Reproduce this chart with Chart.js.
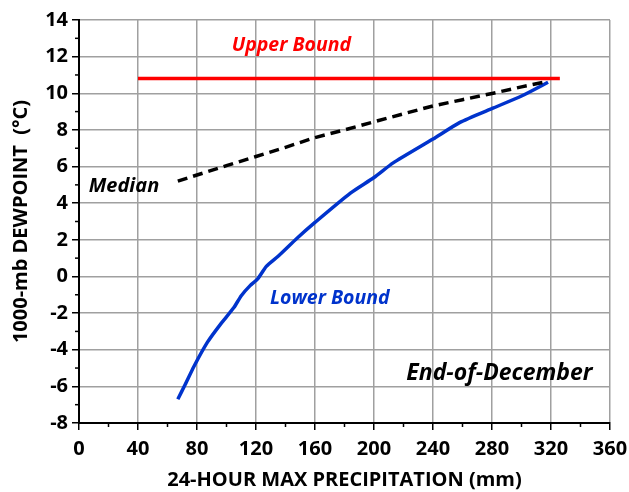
<!DOCTYPE html>
<html>
<head>
<meta charset="utf-8">
<script src="https://cdn.jsdelivr.net/npm/chart.js@4.4.1/dist/chart.umd.min.js"></script>
<style>
  html, body { margin: 0; padding: 0; background: #fff; }
  #wrap { width: 629px; height: 492px; }
</style>
</head>
<body>
<div id="wrap"><canvas id="chart" width="629" height="492"></canvas></div>
<script>
// values
const upperX = [40, 326];
const upperY = [10.8, 10.8];

const medianX = [67, 80, 100, 120, 140, 160, 180, 200, 220, 240, 260, 280, 300, 318];
const medianY = [5.2, 5.54, 6.05, 6.55, 7.05, 7.58, 8.0, 8.44, 8.88, 9.31, 9.65, 9.99, 10.35, 10.65];

const lowerX = [67, 72, 78, 87, 96, 105, 110, 116, 121, 127, 135, 148, 160, 184, 200, 213, 240, 258, 281, 300, 318];
const lowerY = [-6.7, -5.9, -4.9, -3.6, -2.6, -1.7, -1.05, -0.5, -0.15, 0.55, 1.1, 2.1, 2.95, 4.55, 5.4, 6.2, 7.5, 8.4, 9.2, 9.85, 10.6];

const xTicks = [0, 40, 80, 120, 160, 200, 240, 280, 320, 360];
const yTicks = [-8, -6, -4, -2, 0, 2, 4, 6, 8, 10, 12, 14];

const labels = [
  { text: 'Upper Bound', x: 144, y: 12.6, color: '#ff0000', size: 19.5 },
  { text: 'Median', x: 30.5, y: 4.9, color: '#000000', size: 20 },
  { text: 'Lower Bound', x: 170, y: -1.2, color: '#0033cc', size: 19.5 },
  { text: 'End-of-December', x: 285, y: -5.3, color: '#000000', size: 23 }
];

const FONT = '"Open Sans", Lato, sans-serif';

function pts(xs, ys) { return xs.map((x, i) => ({ x: x, y: ys[i] })); }

const extras = {
  id: 'extras',
  afterDraw(chart) {
    const { ctx, scales: { x, y } } = chart;
    ctx.save();
    // minor ticks
    ctx.strokeStyle = '#000';
    ctx.lineWidth = 1.5;
    for (let v = 20; v < 360; v += 40) {
      const px = x.getPixelForValue(v);
      ctx.beginPath(); ctx.moveTo(px, y.bottom); ctx.lineTo(px, y.bottom + 4); ctx.stroke();
    }
    for (let v = -7; v < 14; v += 2) {
      const py = y.getPixelForValue(v);
      ctx.beginPath(); ctx.moveTo(x.left, py); ctx.lineTo(x.left - 4, py); ctx.stroke();
    }
    // text labels
    ctx.textAlign = 'center';
    ctx.textBaseline = 'middle';
    labels.forEach(l => {
      ctx.font = 'italic bold ' + l.size + 'px ' + FONT;
      ctx.fillStyle = l.color;
      ctx.fillText(l.text, x.getPixelForValue(l.x), y.getPixelForValue(l.y));
    });
    ctx.restore();
  }
};

new Chart(document.getElementById('chart'), {
  type: 'line',
  data: {
    datasets: [
      { data: pts(upperX, upperY), borderColor: '#ff0000', borderWidth: 3.5 },
      { data: pts(medianX, medianY), borderColor: '#000000', borderWidth: 3.5, borderDash: [10, 6] },
      { data: pts(lowerX, lowerY), borderColor: '#0033cc', borderWidth: 3.5, tension: 0.2 }
    ]
  },
  options: {
    responsive: false,
    animation: false,
    layout: { padding: { top: 20, right: 19, left: 0, bottom: 0 } },
    elements: { point: { radius: 0 }, line: { borderCapStyle: 'butt' } },
    plugins: { legend: { display: false }, tooltip: { enabled: false } },
    scales: {
      x: {
        type: 'linear', min: 0, max: 360,
        afterBuildTicks: s => { s.ticks = xTicks.map(v => ({ value: v })); },
        afterFit: s => { s.height = 69; s.paddingLeft = 0; s.paddingRight = 0; },
        grid: { color: '#a0a0a0', lineWidth: 1.5, tickColor: '#000', tickLength: 7 },
        border: { color: '#000', width: 2 },
        ticks: { color: '#000', font: { family: FONT, size: 20, weight: 'bold' }, padding: 7, maxRotation: 0 },
        title: { display: true, text: '24-HOUR MAX PRECIPITATION (mm)', color: '#000', font: { family: FONT, size: 20, weight: 'bold' }, padding: { top: 0, bottom: 0 } }
      },
      y: {
        type: 'linear', min: -8, max: 14,
        afterBuildTicks: s => { s.ticks = yTicks.map(v => ({ value: v })); },
        afterFit: s => { s.width = 79; },
        grid: { color: '#a0a0a0', lineWidth: 1.5, tickColor: '#000', tickLength: 7 },
        border: { color: '#000', width: 2 },
        ticks: { color: '#000', font: { family: FONT, size: 20, weight: 'bold' }, padding: 4 },
        title: { display: true, text: '1000-mb DEWPOINT  (°C)', color: '#000', font: { family: FONT, size: 20, weight: 'bold' }, padding: { top: 9, bottom: 0 } }
      }
    }
  },
  plugins: [extras]
});
</script>
</body>
</html>
